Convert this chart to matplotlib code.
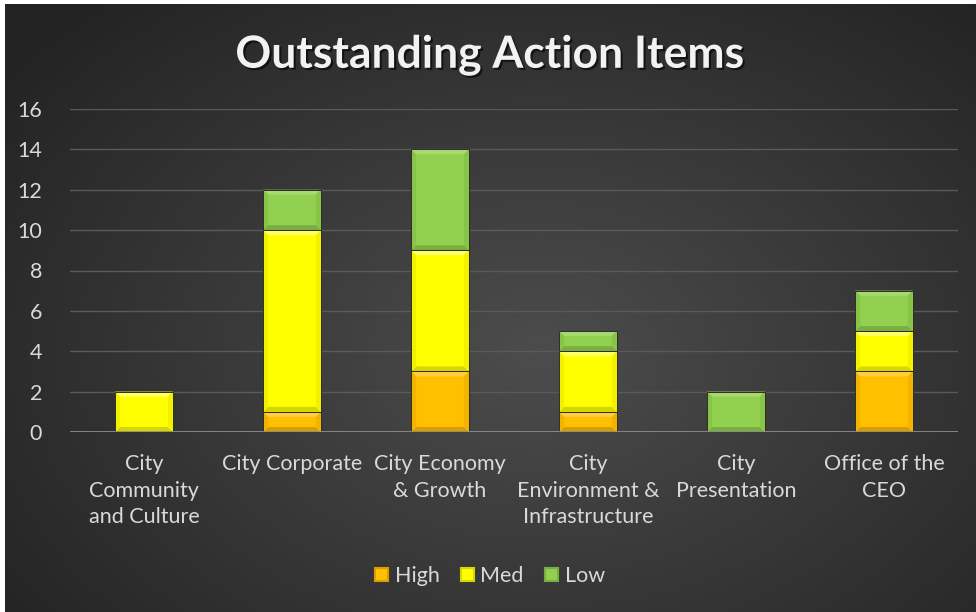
import matplotlib
matplotlib.use("Agg")
import matplotlib.pyplot as plt
import matplotlib.patheffects as pe
from matplotlib.patches import Polygon, Rectangle
import numpy as np

categories = ["City\nCommunity\nand Culture", "City Corporate", "City Economy\n& Growth",
              "City\nEnvironment &\nInfrastructure", "City\nPresentation", "Office of the\nCEO"]
high = [0, 1, 3, 1, 0, 3]
med = [2, 9, 6, 3, 0, 2]
low = [0, 2, 5, 1, 2, 2]
series = [("High", high), ("Med", med), ("Low", low)]
yticks = [0, 2, 4, 6, 8, 10, 12, 14, 16]

colors = {"High": "#FFC000", "Med": "#FFFF00", "Low": "#92D050"}
light = {"High": "#FFCE40", "Med": "#FFFF66", "Low": "#A6DA70"}
dark = {"High": "#F2B400", "Med": "#F2F200", "Low": "#88C448"}
darker = {"High": "#D99E00", "Med": "#D6D600", "Low": "#78AF40"}

font = "Lato"
W, H = 976, 612
fig = plt.figure(figsize=(W / 100, H / 100), dpi=100, facecolor="white")

# background radial gradient
bg = fig.add_axes([5 / W, 0, 1 - 5 / W, 608 / H])
gx, gy = np.meshgrid(np.linspace(-1, 1, 400), np.linspace(-1, 1, 260))
r = np.sqrt(((gx - 0.1) * 0.95) ** 2 + ((gy + 0.15) * 0.85) ** 2)
val = 0.30 - 0.16 * np.clip(r, 0, 1.3) / 1.3
bg.imshow(np.dstack([val, val, val]), aspect="auto", extent=[0, 1, 0, 1], origin="lower")
bg.axis("off")

ax = fig.add_axes([70 / W, 180 / H, 888 / W, 323 / H])
ax.patch.set_alpha(0)
x = np.arange(len(categories))
width = 0.39
ax.set_xlim(-0.5, len(categories) - 0.5)
ax.set_ylim(0, 16)

for yv in yticks[1:]:
    ax.axhline(yv, color="#5a5a5a", lw=1, zorder=0)
ax.axhline(0, color="#8c8c8c", lw=2, zorder=4)

dx = 5 / 148
dy = 5 / 20.2
bottom = np.zeros(len(categories))
for name, vals in series:
    for i, v in enumerate(vals):
        if v == 0:
            continue
        x0, x1 = x[i] - width / 2, x[i] + width / 2
        y0, y1 = bottom[i], bottom[i] + v
        ax.add_patch(Rectangle((x0, y0), width, v, facecolor=colors[name],
                               edgecolor="none", zorder=2))
        ax.add_patch(Polygon([(x0, y1), (x1, y1), (x1 - dx, y1 - dy), (x0 + dx, y1 - dy)],
                             facecolor=light[name], lw=0, zorder=3))
        ax.add_patch(Polygon([(x0, y0), (x1, y0), (x1 - dx, y0 + dy), (x0 + dx, y0 + dy)],
                             facecolor=darker[name], lw=0, zorder=3))
        ax.add_patch(Polygon([(x0, y0), (x0 + dx, y0 + dy), (x0 + dx, y1 - dy), (x0, y1)],
                             facecolor=dark[name], lw=0, zorder=3))
        ax.add_patch(Polygon([(x1, y0), (x1 - dx, y0 + dy), (x1 - dx, y1 - dy), (x1, y1)],
                             facecolor=dark[name], lw=0, zorder=3))
        ax.add_patch(Rectangle((x0, y0), width, v, facecolor="none",
                               edgecolor="#2e2e22", lw=0.7, zorder=3.5))
    bottom += np.array(vals)

ax.set_yticks(yticks)
ax.set_yticklabels([str(t) for t in yticks], fontsize=15.5, color="#d9d9d9", family=font)
ax.set_xticks(x)
ax.set_xticklabels(categories, fontsize=15.5, color="#d9d9d9", family=font, linespacing=1.4)
ax.tick_params(length=0)
ax.tick_params(axis="y", pad=20)
ax.tick_params(axis="x", pad=16)
for s in ax.spines.values():
    s.set_visible(False)

fig.text(490 / W, 1 - 55 / H, "Outstanding Action Items", ha="center", va="center",
         fontsize=32, fontweight="bold", color="#f2f2f2", family=font,
         path_effects=[pe.withSimplePatchShadow(offset=(1.5, -1.5), shadow_rgbFace="black", alpha=0.6)])

# legend
handles = [Rectangle((0, 0), 1, 1, facecolor=colors[n], edgecolor=darker[n], lw=1.5) for n, _ in series]
leg = fig.legend(handles, [n for n, _ in series], loc="center", bbox_to_anchor=(490 / W, 1 - 576 / H),
                 ncol=3, frameon=False, handlelength=0.6, handleheight=0.6, handletextpad=0.3,
                 columnspacing=1.0, prop={"family": font, "size": 15.5})
for t in leg.get_texts():
    t.set_color("#d9d9d9")

fig.savefig("out.png", dpi=100, facecolor="white")
